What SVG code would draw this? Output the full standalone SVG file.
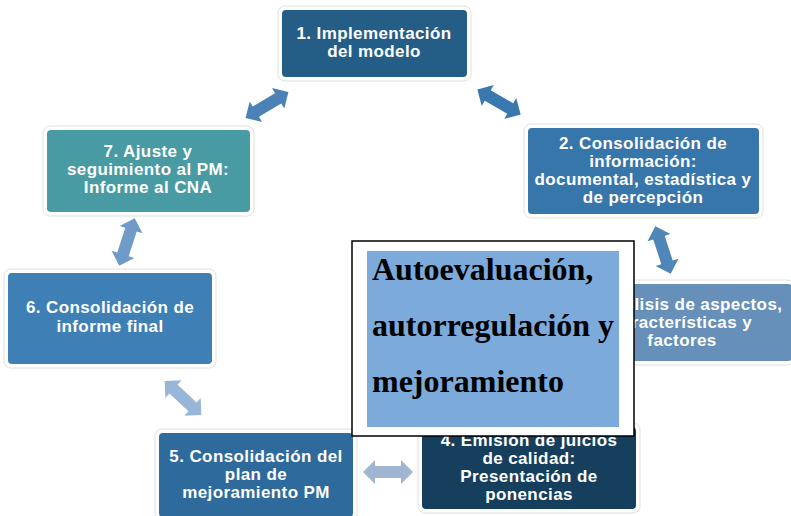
<svg xmlns="http://www.w3.org/2000/svg" xmlns:xlink="http://www.w3.org/1999/xlink" width="791" height="516" viewBox="0 0 791 516">
<style>
.box{stroke:#ffffff;stroke-width:2}
.halo{fill:none;stroke:#e0e0e0;stroke-width:1}
.lbl{font-family:"Liberation Sans",Arial,sans-serif;font-weight:bold;font-size:17px;fill:#ffffff;text-anchor:middle;letter-spacing:0.4px}
.big{font-family:"Liberation Serif","Times New Roman",serif;font-weight:bold;font-size:32px;fill:#000000}
</style>
<defs>
<polygon id="dbl" points="-25,0 -13,-12 -13,-6 13,-6 13,-12 25,0 13,12 13,6 -13,6 -13,12"/>
</defs>
<rect width="791" height="516" fill="#ffffff"/>
<g id="connectors">
<use xlink:href="#dbl" transform="translate(267,105) rotate(-31)" fill="#4A82B8"/>
<use xlink:href="#dbl" transform="translate(499,102) rotate(30)" fill="#3A79B0"/>
<use xlink:href="#dbl" transform="translate(663,250) rotate(72)" fill="#4F86B8"/>
<use xlink:href="#dbl" transform="translate(127,242) rotate(108)" fill="#6F9BC8"/>
<use xlink:href="#dbl" transform="translate(183,398) rotate(43)" fill="#98B6D8"/>
<use xlink:href="#dbl" transform="translate(388,472)" fill="#9FB5D2"/>
</g>
<g id="node1">
<rect class="halo" x="278" y="6" width="193" height="75" rx="7"/>
<rect class="box" x="281" y="9" width="187" height="69" rx="5" fill="#245E86"/>
<text class="lbl" x="374" y="39">1. Implementación</text>
<text class="lbl" x="374" y="57">del modelo</text>
</g>
<g id="node2">
<rect class="halo" x="524" y="124" width="239" height="94" rx="7"/>
<rect class="box" x="527" y="127" width="233" height="88" rx="5" fill="#3776AB"/>
<text class="lbl" x="643" y="149">2. Consolidación de</text>
<text class="lbl" x="643" y="167">información:</text>
<text class="lbl" x="643" y="185">documental, estadística y</text>
<text class="lbl" x="643" y="203">de percepción</text>
</g>
<g id="node3">
<rect class="halo" x="570" y="280" width="224" height="85" rx="7"/>
<rect class="box" x="573" y="283" width="220" height="79" rx="5" fill="#6690BA"/>
<text class="lbl" x="682" y="310">3. Análisis de aspectos,</text>
<text class="lbl" x="682" y="328">características y</text>
<text class="lbl" x="682" y="346">factores</text>
</g>
<g id="node4">
<rect class="halo" x="418" y="423" width="222" height="90" rx="7"/>
<rect class="box" x="421" y="426" width="216" height="84" rx="5" fill="#163F5D"/>
<text class="lbl" x="529" y="446">4. Emisión de juicios</text>
<text class="lbl" x="529" y="464">de calidad:</text>
<text class="lbl" x="529" y="482">Presentación de</text>
<text class="lbl" x="529" y="500">ponencias</text>
</g>
<g id="node5">
<rect class="halo" x="155" y="429" width="202" height="92" rx="7"/>
<rect class="box" x="158" y="432" width="196" height="86" rx="5" fill="#2E6A9B"/>
<text class="lbl" x="256" y="462">5. Consolidación del</text>
<text class="lbl" x="256" y="480">plan de</text>
<text class="lbl" x="256" y="498">mejoramiento PM</text>
</g>
<g id="node6">
<rect class="halo" x="4" y="269" width="212" height="99" rx="7"/>
<rect class="box" x="7" y="272" width="206" height="93" rx="5" fill="#3E80B6"/>
<text class="lbl" x="110" y="313">6. Consolidación de</text>
<text class="lbl" x="110" y="332">informe final</text>
</g>
<g id="node7">
<rect class="halo" x="43" y="126" width="211" height="90" rx="7"/>
<rect class="box" x="46" y="129" width="205" height="84" rx="5" fill="#489BA3"/>
<text class="lbl" x="148" y="157">7. Ajuste y</text>
<text class="lbl" x="148" y="175">seguimiento al PM:</text>
<text class="lbl" x="148" y="193">Informe al CNA</text>
</g>
<g id="center">
<rect x="352" y="241" width="282" height="195" fill="#ffffff" stroke="#000000" stroke-width="1.5"/>
<rect x="367" y="251" width="252" height="176" fill="#7BAADB"/>
<text class="big" x="372" y="280">Autoevaluación,</text>
<text class="big" x="372" y="336">autorregulación y</text>
<text class="big" x="372" y="392">mejoramiento</text>
</g>
</svg>
